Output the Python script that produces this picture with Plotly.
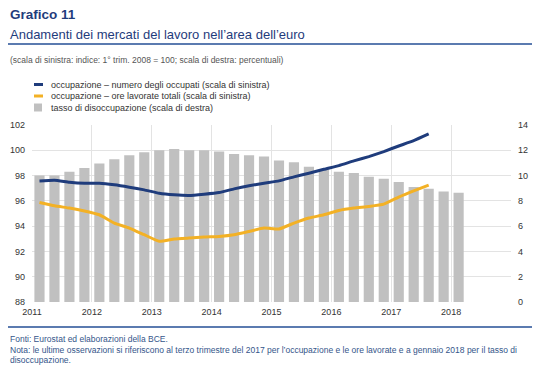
import plotly.graph_objects as go

# ---- data ----
quarters = [f"{y}Q{q}" for y in range(2011, 2019) for q in range(1, 5)][:29]  # 2011Q1 .. 2018Q1
unemployment = [10.0, 10.0, 10.3, 10.6, 10.95, 11.3, 11.6, 11.85, 12.0,
                12.1, 12.0, 12.0, 11.9, 11.7, 11.6, 11.5, 11.2, 11.05,
                10.7, 10.5, 10.3, 10.2, 9.9, 9.75, 9.5, 9.1, 8.95, 8.75, 8.65]
employment = [97.58, 97.63, 97.48, 97.4, 97.4, 97.27, 97.08, 96.87, 96.6,
              96.48, 96.43, 96.53, 96.66, 96.95, 97.19, 97.4, 97.58, 97.9,
              98.19, 98.5, 98.79, 99.16, 99.5, 99.9, 100.34, 100.76, 101.29]
hours = [95.87, 95.61, 95.43, 95.2, 94.9, 94.24, 93.85, 93.32, 92.8,
         92.98, 93.06, 93.14, 93.19, 93.32, 93.58, 93.85, 93.77, 94.24,
         94.64, 94.9, 95.24, 95.43, 95.56, 95.74, 96.3, 96.79, 97.24]
year_ticks = [2011, 2012, 2013, 2014, 2015, 2016, 2017, 2018, 2019]
year_labels = ["2011", "2012", "2013", "2014", "2015", "2016", "2017", "2018", ""]

series_names = ["occupazione \u2013 numero degli occupati (scala di sinistra)",
                "occupazione \u2013 ore lavorate totali (scala di sinistra)",
                "tasso di disoccupazione (scala di destra)"]


def qpos(label):
    y, q = label.split("Q")
    return int(y) + (int(q) - 0.5) / 4


x_bar = [qpos(q) for q in quarters]
x_emp = [qpos(q) for q in quarters[:len(employment)]]
x_hrs = [qpos(q) for q in quarters[:len(hours)]]

NAVY = "#1f3c7c"
YELLOW = "#f3b125"
GREY = "#c0c0c0"
GRID = "#e3e3e3"
FONT = "Liberation Sans, Arial, sans-serif"

fig = go.Figure()
fig.add_trace(go.Bar(x=x_bar, y=unemployment, width=0.17, marker=dict(color=GREY, line=dict(width=0)),
                     yaxis="y", name=series_names[2]))
fig.add_trace(go.Scatter(x=x_emp, y=employment, mode="lines",
                         line=dict(color=NAVY, width=3, shape="spline", smoothing=0.4),
                         yaxis="y2", name=series_names[0]))
fig.add_trace(go.Scatter(x=x_hrs, y=hours, mode="lines",
                         line=dict(color=YELLOW, width=3, shape="spline", smoothing=0.4),
                         yaxis="y2", name=series_names[1]))

# the page body adds an 8px offset; the figure is sized so that it ends at the window edge
OFF = 8
W, H = 540 - OFF, 376 - OFF
L, R, T, B = 32 - OFF, 29, 125 - OFF, 74
PW, PH = W - L - R, H - T - B


def px(x):  # window x -> paper x
    return (x - OFF - L) / PW


def py(y):  # window y -> paper y
    return (H - B - (y - OFF)) / PH


shapes = []
annotations = []


def text(x, y, t, size, color):
    annotations.append(dict(x=px(x), y=py(y), xref="paper", yref="paper", text=t,
                            showarrow=False, xanchor="left", yanchor="middle",
                            font=dict(family=FONT, size=size, color=color)))


# header
text(8, 15, "<b>Grafico 11</b>", 13.5, NAVY)
text(8, 34, "Andamenti dei mercati del lavoro nell\u2019area dell\u2019euro", 13, NAVY)
shapes.append(dict(type="line", xref="paper", yref="paper", x0=px(8), x1=px(541), y0=py(44), y1=py(44),
                   line=dict(color="#5b7bb0", width=2)))
text(8, 60, "(scala di sinistra: indice: 1\u00b0 trim. 2008 = 100; scala di destra: percentuali)", 8.5, "#555555")

# legend
leg_y = [84.5, 96, 107.5]
leg_col = [NAVY, YELLOW]
for i in range(2):
    shapes.append(dict(type="line", xref="paper", yref="paper", x0=px(34), x1=px(43),
                       y0=py(leg_y[i]), y1=py(leg_y[i]), line=dict(color=leg_col[i], width=3)))
shapes.append(dict(type="rect", xref="paper", yref="paper", x0=px(34), x1=px(42),
                   y0=py(leg_y[2] - 4), y1=py(leg_y[2] + 4), fillcolor=GREY, line=dict(width=0)))
for i in range(3):
    text(49, leg_y[i], series_names[i], 9, "#333333")

# footer
shapes.append(dict(type="line", xref="paper", yref="paper", x0=px(8), x1=px(541), y0=py(327), y1=py(327),
                   line=dict(color="#5b7bb0", width=2)))
foot = ["Fonti: Eurostat ed elaborazioni della BCE.",
        "Nota: le ultime osservazioni si riferiscono al terzo trimestre del 2017 per l\u2019occupazione e le ore lavorate e a gennaio 2018 per il tasso di",
        "disoccupazione."]
for i, t in enumerate(foot):
    text(8, 339 + 10.5 * i, t, 8.5, "#34558a")

tickfont = dict(family=FONT, size=9, color="#333333")
fig.update_layout(
    width=W, height=H, margin=dict(l=L, r=R, t=T, b=B, autoexpand=False),
    paper_bgcolor="white", plot_bgcolor="white", showlegend=False,
    xaxis=dict(range=[2011, 2019], tickvals=year_ticks, ticktext=year_labels, showgrid=True, gridcolor=GRID,
               gridwidth=1, zeroline=False, showline=False, ticks="", tickfont=tickfont, ticklabelstandoff=3),
    yaxis=dict(range=[0, 14], dtick=2, side="right", showgrid=True, gridcolor=GRID, zeroline=False,
               showline=False, ticks="", tickfont=tickfont, ticklabelstandoff=6),
    yaxis2=dict(range=[88, 102], dtick=2, side="left", overlaying="y", showgrid=False, zeroline=False,
                showline=False, ticks="", tickfont=tickfont, ticklabelstandoff=6),
    shapes=shapes, annotations=annotations,
)

fig.write_html("out.html")
